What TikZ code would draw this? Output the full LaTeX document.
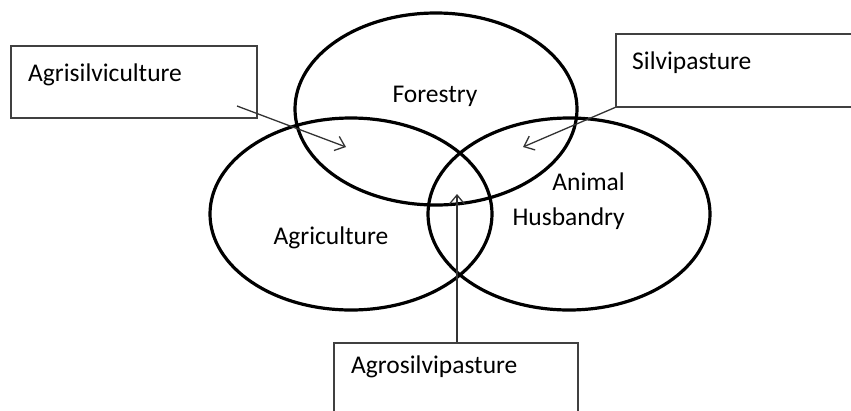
\documentclass[tikz,border=0pt]{standalone}
\usepackage{fontspec}
\setmainfont{Carlito}
\usetikzlibrary{shapes.geometric,arrows.meta}
\begin{document}
\begin{tikzpicture}[x=1pt,y=-1pt,
  setshape/.style={draw=black,line width=3.2pt,ellipse,minimum width=282pt,minimum height=192pt,inner sep=0pt},
  boxshape/.style={draw=black!75,line width=1.5pt,rectangle,inner sep=0pt,anchor=north west},
  lbl/.style={inner sep=0pt,font=\fontsize{25.5}{30}\selectfont,text=black},
  arr/.style={draw=black!80,line width=1.3pt,-{Straight Barb[length=9pt,width=15pt,line width=1.3pt]}}]
\useasboundingbox (0,0) rectangle (851,410);
\clip (0,0) rectangle (851,410);
% sets
\node[setshape] (forestry) at (436,109) {};
\node[setshape] (agri) at (351,214) {};
\node[setshape] (animal) at (569,214) {};
% set labels
\node[lbl,anchor=base] (tforestry) at (435,102) {Forestry};
\node[lbl,anchor=base] (tagri) at (331,244) {Agriculture};
\node[lbl,anchor=base east] (tanimal) at (625,190) {Animal};
\node[lbl,anchor=base east] (thusb) at (625,225) {Husbandry};
% boxes
\node[boxshape,minimum width=246pt,minimum height=72pt] (b1) at (10,45) {};
\node[boxshape,minimum width=250pt,minimum height=73pt] (b2) at (615,33) {};
\node[boxshape,minimum width=244pt,minimum height=90pt] (b3) at (333,342) {};
\node[lbl,anchor=base west] (t1) at (28,81) {Agrisilviculture};
\node[lbl,anchor=base west] (t2) at (632,69) {Silvipasture};
\node[lbl,anchor=base west] (t3) at (351,373) {Agrosilvipasture};
% arrows
\coordinate (s1) at (237,106);
\coordinate (e1) at (346,147);
\coordinate (e2) at (523,147);
\coordinate (e3) at (457,194);
\draw[arr] (s1) -- (e1);
\draw[arr] (b2.south west) -- (e2);
\draw[arr] (b3.north -| e3) -- (e3);
\end{tikzpicture}
\end{document}
